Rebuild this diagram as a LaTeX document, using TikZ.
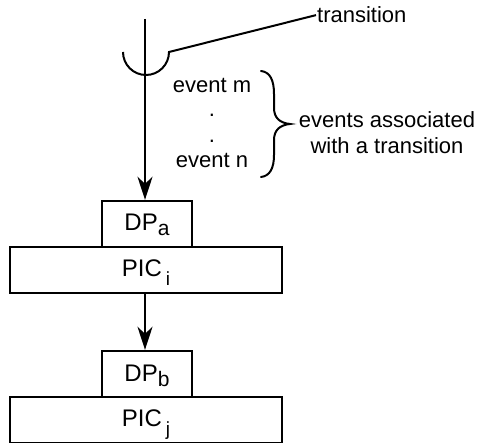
\documentclass[tikz,border=0pt]{standalone}
\usepackage{fontspec}
\setmainfont{Liberation Sans}
\usetikzlibrary{arrows.meta}
\begin{document}
\begin{tikzpicture}[x=1pt,y=-1pt,
  line/.style={line width=2pt},
  arr/.style={line width=2pt,-{Stealth[length=23pt,width=15pt,inset=7pt]}},
  lbl/.style={font=\fontsize{22}{26}\selectfont,inner sep=1pt},
  dpbox/.style={draw,line width=2.4pt,minimum width=90pt,minimum height=46pt,
    inner sep=0pt,text height=14pt,text depth=0pt,font=\fontsize{24}{28}\selectfont},
  picbox/.style={draw,line width=2.4pt,minimum width=272pt,minimum height=46pt,
    inner sep=0pt,text height=13pt,text depth=0pt,font=\fontsize{24}{28}\selectfont}]
\useasboundingbox (0,0) rectangle (481,443);

% transition marker and its label
\coordinate (top) at (145,19);
\node[lbl,anchor=base west] (tr) at (316,23) {transition};
\draw[line] (123,52) arc[start angle=180,end angle=0,radius=23] -- (tr.west);

% events of the transition
\node[lbl,anchor=base] (em) at (212,93) {event m};
\node[lbl,anchor=base] (d1) at (212,117) {.};
\node[lbl,anchor=base] (d2) at (212,143) {.};
\node[lbl,anchor=base] (en) at (212,168) {event n};

% brace grouping the events
\draw[line,line cap=round]
  (261,71) .. controls (270,72) and (274,80) .. (274,94)
  -- (274,108) .. controls (274,118) and (280,123) .. (290,124)
  .. controls (280,125) and (274,130) .. (274,140)
  -- (274,155) .. controls (274,168) and (270,176) .. (261,177);
\node[lbl,anchor=base] (ea1) at (387,128) {events associated};
\node[lbl,anchor=base] (ea2) at (387,154) {with a transition};

% stacked boxes
\node[dpbox] (dpa) at (147,224) {DP\raisebox{-5pt}{\fontsize{21}{21}\selectfont a}};
\node[picbox] (pici) at (146,270) {PIC\kern4pt\raisebox{-9pt}{\fontsize{19}{19}\selectfont i}};
\node[dpbox] (dpb) at (147,374) {DP\raisebox{-5pt}{\fontsize{21}{21}\selectfont b}};
\node[picbox] (picj) at (146,420) {PIC\kern4pt\raisebox{-9pt}{\fontsize{19}{19}\selectfont j}};

% flow arrows
\draw[arr] (top) -- (top |- dpa.north);
\draw[arr] (top |- pici.south) -- (top |- dpb.north);
\end{tikzpicture}
\end{document}
